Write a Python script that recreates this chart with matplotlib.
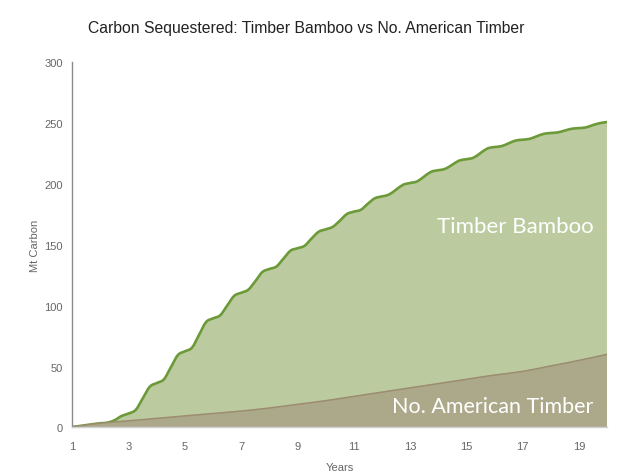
import numpy as np
import matplotlib
matplotlib.use("Agg")
import matplotlib.pyplot as plt
from matplotlib.path import Path
from matplotlib.patches import PathPatch

# Quarter-year sample points (years)
years = [1 + 0.25 * i for i in range(77)]

# Timber bamboo cumulative carbon (Mt), quarterly
bamboo = [
    0.5, 1.2, 2.0, 2.8,
    3.5, 4.0, 6.0, 9.5,
    11.5, 14.5, 24.0, 33.5,
    36.5, 39.5, 49.5, 59.5,
    62.5, 65.5, 76.0, 86.5,
    89.5, 92.0, 100.0, 108.0,
    110.5, 113.0, 120.0, 127.5,
    130.0, 132.0, 138.5, 145.0,
    147.0, 149.0, 155.0, 160.5,
    162.5, 164.5, 169.5, 175.0,
    177.0, 178.5, 183.5, 188.0,
    189.5, 191.0, 195.0, 199.0,
    200.5, 201.8, 205.8, 209.7,
    211.0, 212.1, 215.5, 218.9,
    220.0, 221.2, 225.0, 228.8,
    230.0, 230.7, 233.0, 235.3,
    236.0, 236.7, 238.8, 240.8,
    241.5, 242.0, 243.5, 245.0,
    245.5, 246.1, 248.0, 249.6,
    250.5,
]

# Whole-year values for North American timber
timber_years = list(range(1, 21))
timber = [0.5, 3.5, 5.5, 7.5, 9.5, 11.5, 13.5, 16.0, 19.0, 22.0,
          25.5, 29.0, 32.5, 36.0, 39.5, 43.0, 46.0, 50.5, 55.0, 60.0]

x_ticks = [1, 3, 5, 7, 9, 11, 13, 15, 17, 19]
y_ticks = [0, 50, 100, 150, 200, 250, 300]

title = "Carbon Sequestered: Timber Bamboo vs No. American Timber"
x_label = "Years"
y_label = "Mt Carbon"
bamboo_label = "Timber Bamboo"
timber_label = "No. American Timber"

green_fill = "#bccb9f"
green_line = "#6c9a38"
brown_fill = "#aca98b"
brown_line = "#9c8c70"
text_gray = "#666666"


def smooth_vertices(xs, ys):
    """Cubic Bezier vertices/codes through the points (Catmull-Rom tangents)."""
    p = np.column_stack([xs, ys]).astype(float)
    n = len(p)
    m = np.empty_like(p)
    m[1:-1] = (p[2:] - p[:-2]) / 2.0
    m[0] = p[1] - p[0]
    m[-1] = p[-1] - p[-2]
    verts = [p[0]]
    codes = [Path.MOVETO]
    for i in range(n - 1):
        verts += [p[i] + m[i] / 3.0, p[i + 1] - m[i + 1] / 3.0, p[i + 1]]
        codes += [Path.CURVE4] * 3
    return verts, codes


def draw_area(ax, xs, ys, fill, edge, lw, z):
    verts, codes = smooth_vertices(xs, ys)
    area_verts = [(xs[0], 0.0)] + [tuple(v) for v in verts] + [(xs[-1], 0.0), (xs[0], 0.0)]
    area_codes = [Path.MOVETO, Path.LINETO] + codes[1:] + [Path.LINETO, Path.CLOSEPOLY]
    ax.add_patch(PathPatch(Path(area_verts, area_codes), facecolor=fill,
                           edgecolor="none", zorder=z))
    ax.add_patch(PathPatch(Path(verts, codes), facecolor="none", edgecolor=edge,
                           linewidth=lw, capstyle="round", joinstyle="round",
                           zorder=z + 0.5))


fig = plt.figure(figsize=(6.26, 4.77), dpi=100)
ax = fig.add_axes([0.1158, 0.1017, 0.9696 - 0.1158, 0.8686 - 0.1017])

draw_area(ax, years, bamboo, green_fill, green_line, 1.9, 1)
draw_area(ax, timber_years, timber, brown_fill, brown_line, 1.1, 2)

ax.set_xlim(1, 20)
ax.set_ylim(0, 300)
ax.set_xticks(x_ticks)
ax.set_yticks(y_ticks)
ax.tick_params(length=0, labelsize=8, colors=text_gray)
ax.tick_params(axis="x", pad=9.5)
ax.tick_params(axis="y", pad=7)
for lab in ax.get_xticklabels() + ax.get_yticklabels():
    lab.set_fontfamily("Liberation Sans")

for side in ("top", "right"):
    ax.spines[side].set_visible(False)
ax.spines["left"].set_color("#8a8a8a")
ax.spines["left"].set_linewidth(1.0)
ax.spines["bottom"].set_color("#d0d0d0")
ax.spines["bottom"].set_linewidth(1.0)

ax.set_xlabel(x_label, fontsize=8, color=text_gray, family="Liberation Sans", labelpad=8)
ax.set_ylabel(y_label, fontsize=8, color=text_gray, family="Liberation Sans", labelpad=3)

fig.text(0.489, 0.941, title, ha="center", va="center", fontsize=11.3,
         color="#222222", family="Liberation Sans")

ax.text(0.975, 0.55, bamboo_label, transform=ax.transAxes, ha="right", va="center",
        fontsize=16, color="white", family="Lato", zorder=5)
ax.text(0.975, 0.06, timber_label, transform=ax.transAxes, ha="right", va="center",
        fontsize=15.5, color="white", family="Lato", zorder=5)

fig.savefig("out.png", dpi=100, facecolor="white")
